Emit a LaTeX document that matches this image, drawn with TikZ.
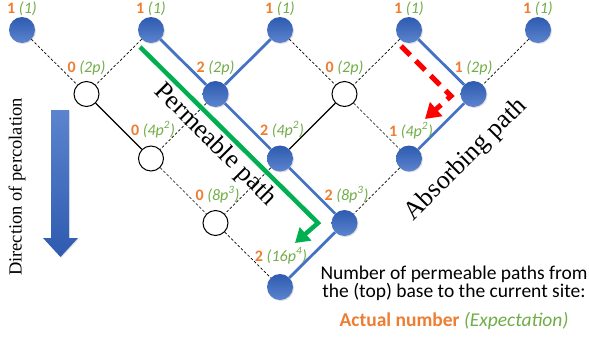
\documentclass[tikz,border=0pt]{standalone}
\usepackage{fontspec}
\setmainfont{Carlito}
\newfontfamily\serifnm{Liberation Serif}
\usetikzlibrary{arrows.meta,shadows}
\definecolor{lorange}{HTML}{ED7D31}
\definecolor{lgreen}{HTML}{70AD47}
\definecolor{lblue}{HTML}{4472C4}
\definecolor{ndtop}{HTML}{2E5BB0}
\definecolor{ndbot}{HTML}{5C84CE}
\definecolor{agreen}{HTML}{00B050}
\definecolor{ared}{HTML}{FF0000}
\newcommand\sitelab[2]{\textbf{\color{lorange}#1} \textit{\color{lgreen}(#2)}}
\begin{document}
\begin{tikzpicture}[x=1pt,y=-1pt,
  site/.style={circle,minimum size=26pt,inner sep=0pt,top color=ndtop,bottom color=ndbot,
    drop shadow={opacity=0.25,shadow xshift=1pt,shadow yshift=-1pt}},
  hole/.style={circle,minimum size=25pt,inner sep=0pt,draw=black,line width=1pt,fill=white},
  thin dash/.style={draw=black,line width=0.7pt,dash pattern=on 2.6pt off 2pt},
  solidblk/.style={draw=black,line width=1.3pt},
  bluepath/.style={draw=lblue,line width=2.8pt},
  lab/.style={anchor=base,inner sep=0pt,font=\fontsize{16}{18}\selectfont},
  bigtxt/.style={anchor=base,inner sep=0pt,font=\fontsize{19.5}{22}\selectfont},
  pathtxt/.style={inner sep=0pt,font=\serifnm\fontsize{26}{30}\selectfont}
]
\useasboundingbox (0,0) rectangle (589,338);

% sites
\node[site] (a1) at (22,30) {};
\node[site] (a2) at (151,30) {};
\node[site] (a3) at (280,30) {};
\node[site] (a4) at (409,30) {};
\node[site] (a5) at (538,30) {};
\node[hole] (b1) at (86.5,94) {};
\node[site] (b2) at (215.5,94) {};
\node[hole] (b3) at (344.5,94) {};
\node[site] (b4) at (473.5,94) {};
\node[hole] (c1) at (151,158.5) {};
\node[site] (c2) at (280,158.5) {};
\node[site] (c3) at (409,158.5) {};
\node[hole] (d1) at (215.5,223) {};
\node[site] (d2) at (344.5,223) {};
\node[site] (e1) at (280,287) {};

% bonds
\foreach \p/\q in {a1/b1,a2/b1,a3/b3,a4/b3,a5/b4,b2/c1,b3/c3,c1/d1,c2/d1,c3/d2,d1/e1}
  \draw[thin dash] (\p) -- (\q);
\foreach \p/\q in {b1/c1,b3/c2}
  \draw[solidblk] (\p) -- (\q);
\foreach \p/\q in {a2/b2,a3/b2,b2/c2,c2/d2,d2/e1,a4/b4,b4/c3}
  \draw[bluepath] (\p) -- (\q);

% labels
\node[lab] (la1) at (22,13.5) {\sitelab{1}{1}};
\node[lab] (la2) at (151,13.5) {\sitelab{1}{1}};
\node[lab] (la3) at (280,13.5) {\sitelab{1}{1}};
\node[lab] (la4) at (409,13.5) {\sitelab{1}{1}};
\node[lab] (la5) at (538,13.5) {\sitelab{1}{1}};
\node[lab] (lb1) at (86.5,72) {\sitelab{0}{2\textit{p}}};
\node[lab] (lb2) at (215.5,72) {\sitelab{2}{2\textit{p}}};
\node[lab] (lb3) at (344.5,72) {\sitelab{0}{2\textit{p}}};
\node[lab] (lb4) at (473.5,72) {\sitelab{1}{2\textit{p}}};
\node[lab] (lc1) at (153,135) {\sitelab{0}{4\textit{p}\textsuperscript{2}}};
\node[lab] (lc2) at (282,135) {\sitelab{2}{4\textit{p}\textsuperscript{2}}};
\node[lab] (lc3) at (411,136) {\sitelab{1}{4\textit{p}\textsuperscript{2}}};
\node[lab] (ld1) at (217.5,200) {\sitelab{0}{8\textit{p}\textsuperscript{3}}};
\node[lab] (ld2) at (346.5,200) {\sitelab{2}{8\textit{p}\textsuperscript{3}}};
\node[lab] (le1) at (281,261) {\sitelab{2}{16\textit{p}\textsuperscript{4}}};

% path texts
\node[pathtxt,rotate=-45] (perm) at (215,145) {Permeable path};
\node[pathtxt,rotate=45] (absorb) at (466,160) {Absorbing path};
\node[inner sep=0pt,rotate=90,font=\serifnm\fontsize{18.5}{22}\selectfont] (dir) at (17,187) {Direction of percolation};

% green permeable arrow
\coordinate (gs) at (140,47);
\coordinate (gc) at (318,223);
\coordinate (ge) at (295,243);
\draw[agreen,line width=4.5pt,line join=miter,-{Triangle[length=14pt,width=17pt]}] (gs) -- (gc) -- (ge);

% red absorbing arrow
\coordinate (rs) at (401,46);
\coordinate (rc) at (451,96);
\coordinate (re) at (425,119);
\draw[ared,line width=5pt,dash pattern=on 13pt off 8pt,-{Triangle[length=15pt,width=18pt]}] (rs) -- (rc) -- (re);

% direction arrow
\shade[top color=ndbot,bottom color=ndtop,drop shadow={opacity=0.2,shadow xshift=1pt,shadow yshift=-1pt}]
  (51,110) -- (69,110) -- (69,238) -- (78,238) -- (60.5,257) -- (43,238) -- (51,238) -- cycle;

% legend text
\node[bigtxt] (t1) at (454,279) {Number of permeable paths from};
\node[bigtxt] (t2) at (454,297) {the (top) base to the current site:};
\node[bigtxt] (t3) at (454,326) {\textbf{\color{lorange}Actual number} \textit{\color{lgreen}(Expectation)}};
\end{tikzpicture}
\end{document}
